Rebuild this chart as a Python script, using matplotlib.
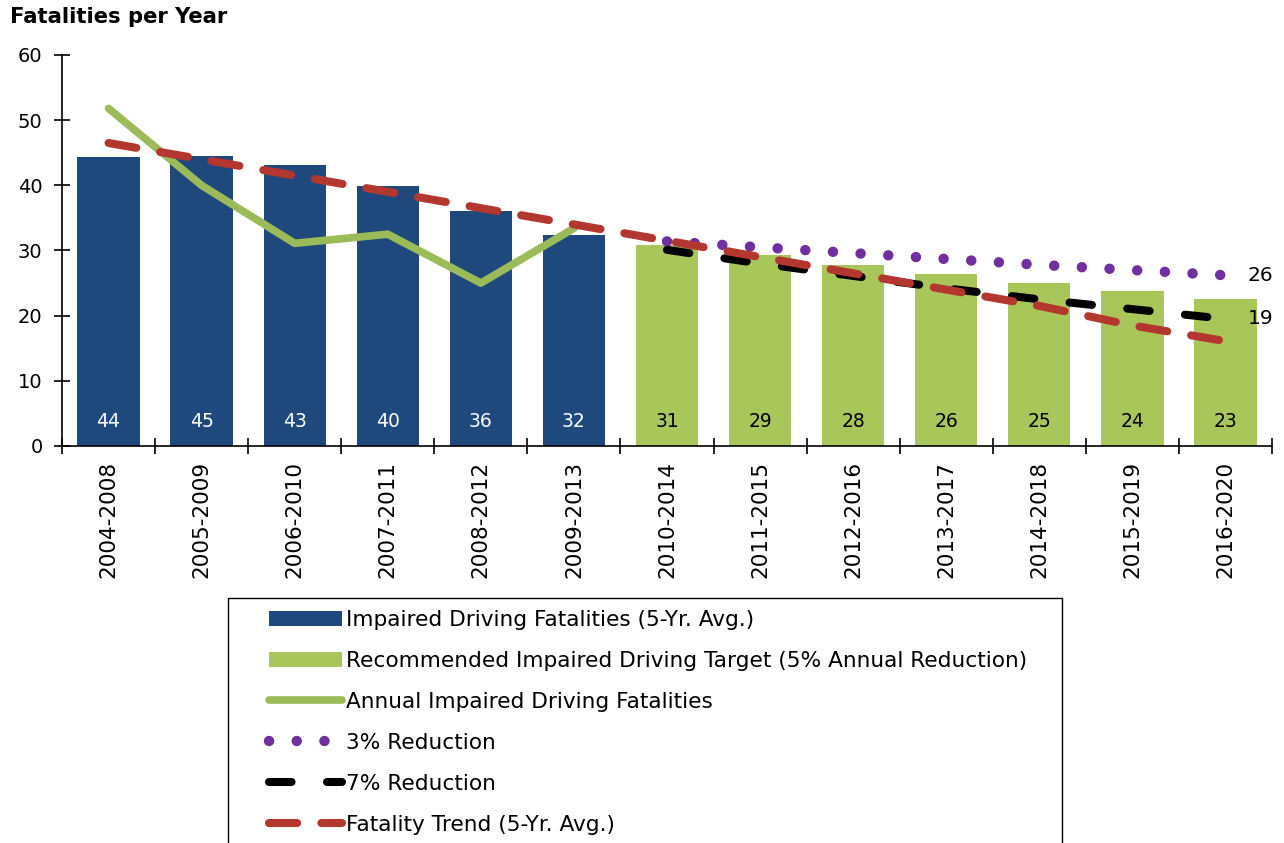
import numpy as np
import matplotlib
matplotlib.use('Agg')
from matplotlib import pyplot as plt
from matplotlib.patches import Rectangle

# data
periods = ['2004-2008', '2005-2009', '2006-2010', '2007-2011', '2008-2012', '2009-2013',
           '2010-2014', '2011-2015', '2012-2016', '2013-2017', '2014-2018', '2015-2019', '2016-2020']
avg_fatalities = [44.3, 44.5, 43.1, 39.9, 36.0, 32.4]
avg_labels = ['44', '45', '43', '40', '36', '32']
target = [30.8, 29.3, 27.8, 26.4, 25.0, 23.8, 22.6]
target_labels = ['31', '29', '28', '26', '25', '24', '23']
annual = [51.8, 40.0, 31.1, 32.5, 25.0, 33.4]
reduction_3 = [31.4, 30.5, 29.6, 28.7, 27.8, 27.0, 26.2]
reduction_7 = [30.1, 28.0, 26.1, 24.2, 22.5, 21.0, 19.5]
trend = [46.5, 44.0, 41.5, 39.0, 36.5, 34.0, 31.5, 29.0, 26.5, 24.0, 21.5, 18.5, 16.1]

blue = '#1F497D'
light_green = '#A9C65B'
line_green = '#9BBB59'
purple = '#7030A0'
red = '#B3372E'

x = np.arange(len(periods))
x_hist = x[:len(avg_fatalities)]
x_proj = x[len(avg_fatalities):]

fig = plt.figure(figsize=(12.84, 8.43), dpi=100)
ax = fig.add_axes([62 / 1284, 1 - 446 / 843, 1210 / 1284, 391 / 843])

b1 = ax.bar(x_hist, avg_fatalities, width=0.67, color=blue, zorder=2,
            label='Impaired Driving Fatalities (5-Yr. Avg.)')
b2 = ax.bar(x_proj, target, width=0.67, color=light_green, zorder=2,
            label='Recommended Impaired Driving Target (5% Annual Reduction)')

for xi, lab in zip(x_hist, avg_labels):
    ax.text(xi, 3.8, lab, ha='center', va='center', color='white', fontsize=13.5, zorder=5)
for xi, lab in zip(x_proj, target_labels):
    ax.text(xi, 3.8, lab, ha='center', va='center', color='black', fontsize=13.5, zorder=5)

ax.plot(x_hist, annual, color=line_green, lw=5.5, solid_capstyle='round',
        solid_joinstyle='round', zorder=3, label='Annual Impaired Driving Fatalities')
ax.plot(x_proj, reduction_3, color=purple, lw=7.5, linestyle=(0, (0.01, 2.65)),
        dash_capstyle='round', zorder=4, label='3% Reduction')
ax.plot(x_proj, reduction_7, color='black', lw=5.8, linestyle=(0, (2.8, 4.4)),
        dash_capstyle='round', zorder=4, label='7% Reduction')
ax.plot(x, trend, color=red, lw=5.8, linestyle=(0, (3.5, 3.0)),
        dash_capstyle='round', zorder=4, label='Fatality Trend (5-Yr. Avg.)')

ax.annotate('26', (x[-1], reduction_3[-1]), xytext=(16, 0), textcoords='offset points',
            va='center', ha='left', fontsize=14.5)
ax.annotate('19', (x[-1], reduction_7[-1]), xytext=(16, 0), textcoords='offset points',
            va='center', ha='left', fontsize=14.5)

ax.set_xlim(-0.5, len(periods) - 0.5)
ax.set_ylim(0, 60)
ax.set_yticks([0, 10, 20, 30, 40, 50, 60])
ax.tick_params(axis='y', direction='inout', length=12, width=1.2, labelsize=14, pad=8)
ax.set_xticks(x)
ax.set_xticklabels(periods, rotation=90, fontsize=15.5)
ax.set_xticks(np.arange(len(periods) + 1) - 0.5, minor=True)
ax.tick_params(axis='x', which='major', length=0, pad=11)
ax.tick_params(axis='x', which='minor', direction='inout', length=12, width=1.2)
for side in ['top', 'right']:
    ax.spines[side].set_visible(False)
for side in ['left', 'bottom']:
    ax.spines[side].set_linewidth(1.2)

fig.text(10 / 1284, 1 - 7 / 843, 'Fatalities per Year', fontsize=15.2, fontweight='bold',
         ha='left', va='top')

# legend box runs off the bottom of the picture
fig.patches.append(Rectangle((228 / 1284, -0.05), (1062 - 228) / 1284, 0.05 + (843 - 598) / 843,
                             transform=fig.transFigure, fill=False, edgecolor='black', lw=1.0))
leg = fig.legend(handles=[b1, b2] + ax.get_lines(), loc='upper left',
                 bbox_to_anchor=(269 / 1284, 1 - 610 / 843), fontsize=15.6,
                 frameon=False, handlelength=3.35, handletextpad=0.2,
                 labelspacing=0.97, borderpad=0, borderaxespad=0)

fig.savefig('out.png', dpi=100)
